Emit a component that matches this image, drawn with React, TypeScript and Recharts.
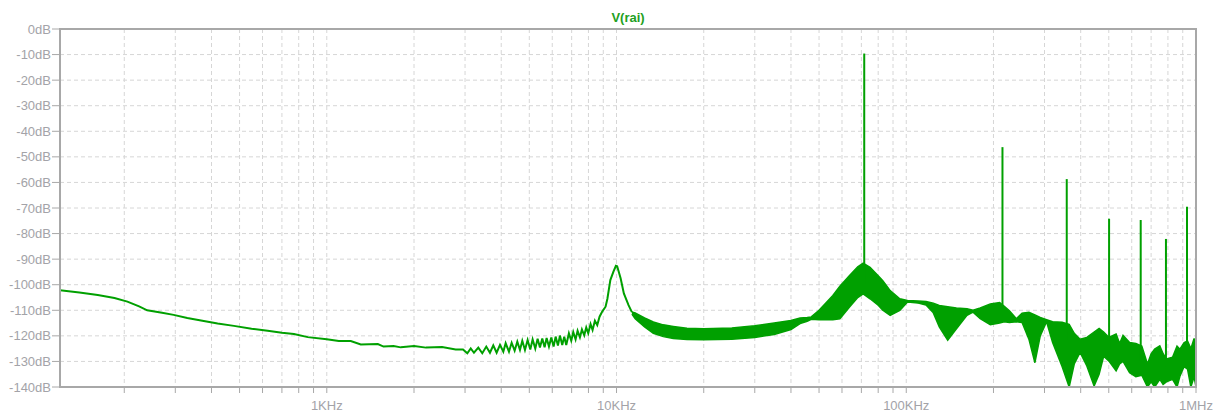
import {
  ComposedChart,
  Line,
  Area,
  XAxis,
  YAxis,
  CartesianGrid,
  ReferenceArea
} from "recharts";

const green = "#00a000";
const axisGray = "#a8a8a8";
const labelGray = "#a3a3a8";
const font = "'Liberation Sans', Arial, sans-serif";

// single trace: low end, ripple from 3K, resonance at 10K
const traceFreq = [
  120, 140, 162, 185, 205, 225, 240, 270, 296, 330, 368, 420, 478, 550, 625, 700, 770, 860,
  1000, 1100, 1210, 1310, 1400, 1500, 1570, 1700, 1800, 2000, 2200, 2500, 2785, 2952,
  3055, 3139, 3221, 3334, 3441, 3552, 3657, 3755, 3856, 3961, 4067, 4143, 4254, 4345,
  4450, 4545, 4642, 4729, 4830, 4933, 5039, 5133, 5243, 5341, 5441, 5543, 5646, 5737,
  5845, 5954, 6065, 6163, 6277, 6378, 6496, 6600, 6706, 6849, 6978, 7090, 7222, 7338,
  7475, 7595, 7736, 7861, 7987, 8136, 8267, 8421, 8579, 8738, 8925, 9165, 9300, 9520,
  9750, 9950, 10050, 10330, 10600, 11000, 11300
];
const traceDb = [
  -102.2, -103, -104, -105.2, -106.6, -108.5, -110, -111, -111.8, -113, -114, -115.2, -116.1, -117.2, -118, -118.8, -119.3, -120.5,
  -121.3, -122, -122, -123.4, -123.3, -123.2, -124.2, -124, -124.5, -124, -124.6, -124.4, -125.3, -125.3,
  -126.8, -124.9, -126.6, -124.6, -126.8, -124.2, -126.6, -123.7, -126.6, -123.5, -126.2, -122.9, -126.2, -122.7,
  -125.8, -122.3, -125.5, -121.9, -125.5, -121.6, -125.3, -121.4, -125.0, -121.1, -124.6, -121.0, -124.5, -120.8,
  -124.2, -120.6, -124.2, -120.3, -123.8, -119.9, -123.6, -120.3, -123.6, -119.0, -121.9, -118.5, -121.4, -118.0,
  -120.6, -117.5, -119.8, -116.7, -119.0, -115.4, -117.7, -114.1, -115.8, -112.5, -110.5, -108.6, -105.5, -98.2,
  -95, -92.6, -92.8, -97.5, -103.4, -108, -110.7
];

// dense part above 11K drawn as min/max envelope
const bandFreq = [
  11300, 11600, 12500, 13400, 14500, 15700, 17500, 20000, 25000, 30000, 35000, 40000, 43000, 45500,
  47000, 50000, 55800, 59000, 63600, 68000, 71000, 75000, 80000, 83000, 88000, 95000, 101000, 110000,
  117000, 124000, 130000, 139000, 149000, 162000, 170000, 180000, 195000, 210000, 218000, 227000,
  240000, 251000, 265000, 278000, 290000, 305000, 320000, 345000, 365000, 380000, 398000, 420000,
  445000, 463000, 480000, 500000, 530000, 545000, 560000, 590000, 620000, 650000, 680000, 700000,
  720000, 750000, 770000, 790000, 830000, 860000, 880000, 910000, 935000, 960000, 985000, 1000000
];
const bandHi = [
  -110.7, -111, -113, -114.6, -115.7, -116.3, -117, -117.2, -116.9, -116, -115, -114, -113, -112.8,
  -112.6, -110, -104.2, -100.6, -96.5, -93, -91.6, -93.2, -96.5, -98.4, -102.3, -105.5, -106.2, -106.4,
  -106.6, -107.2, -108.1, -108.6, -109.1, -109.4, -110, -109.1, -107.5, -107, -108.5, -110.2,
  -113.3, -111.1, -110.8, -111.8, -112.8, -113.7, -114.5, -114.7, -115.5, -119, -121.3, -120.6,
  -118.5, -117.1, -118.5, -120.6, -119.3, -123, -119.8, -122.6, -123, -124, -131, -127,
  -125.2, -123.9, -127, -129, -128.4, -124, -125.2, -122.6, -122, -125, -121, -128
];
const bandLo = [
  -111.5, -113.3, -116.5, -119, -120.3, -121, -121.4, -121.5, -121.3, -120.6, -119.5, -117.5, -115.2, -114.3,
  -113.5, -113.7, -113.7, -113.3, -108.8, -105, -103.6, -105.5, -108, -110, -112, -110, -106.8, -107.2,
  -107.9, -111, -116.5, -121.7, -117.2, -112, -110.7, -113.3, -115.6, -115, -114.5, -114.8,
  -114.5, -114.8, -121.3, -130.5, -120, -114.5, -122.6, -132, -140, -131, -126.5, -131.8,
  -139.6, -135, -128, -129.8, -133.7, -131, -130, -134.4, -136, -135.4, -140, -138,
  -140, -137, -139, -138, -137, -140, -135.8, -132, -133, -140, -136, -140
];

// harmonics of the switching frequency
const spikeFreq = [71600, 214800, 358000, 501200, 644400, 787600, 930800];
const spikeTop = [-9.6, -46.2, -58.7, -74.2, -74.7, -82.1, -69.5];
const spikeBase = [-100, -112, -122, -125, -130, -132, -128];

const xTicks = [
  200, 300, 400, 500, 600, 700, 800, 900,
  1000, 2000, 3000, 4000, 5000, 6000, 7000, 8000, 9000,
  10000, 20000, 30000, 40000, 50000, 60000, 70000, 80000, 90000,
  100000, 200000, 300000, 400000, 500000, 600000, 700000, 800000, 900000, 1000000
];
const decadeLabels: Record<number, string> = {
  1000: "1KHz",
  10000: "10KHz",
  100000: "100KHz",
  1000000: "1MHz"
};
const yTicks = [0, -10, -20, -30, -40, -50, -60, -70, -80, -90, -100, -110, -120, -130, -140];

export default function App() {
  const traceData = traceFreq.map((f, i) => ({ f, db: traceDb[i] }));
  const bandData = bandFreq.map((f, i) => ({ f, range: [bandLo[i], bandHi[i]] }));
  const spikes = spikeFreq.map((f, i) => [
    { f, db: spikeBase[i] },
    { f, db: spikeTop[i] }
  ]);

  return (
    <div style={{ position: "absolute", left: 0, top: 0, width: 1215, height: 412, background: "#fff", fontFamily: font }}>
      <div
        style={{
          position: "absolute",
          left: 0,
          width: 1256,
          top: 10,
          textAlign: "center",
          color: "#22a022",
          fontWeight: "bold",
          fontSize: 13
        }}
      >
        V(rai)
      </div>

      <ComposedChart width={1215} height={412} margin={{ top: 29, right: 19, bottom: 0, left: 0 }}>
        <CartesianGrid stroke="#d6d6d6" strokeDasharray="4 3" />

        <XAxis
          dataKey="f"
          type="number"
          scale="log"
          domain={[120, 1000000]}
          allowDataOverflow
          ticks={xTicks}
          interval={0}
          height={25}
          tickSize={6}
          tickMargin={8}
          tickFormatter={(v: number) => decadeLabels[v] ?? ""}
          stroke={axisGray}
          axisLine={{ stroke: axisGray, strokeWidth: 2 }}
          tickLine={{ stroke: axisGray }}
          tick={{ fill: labelGray, fontSize: 13, fontFamily: font }}
        />
        <YAxis
          type="number"
          domain={[-140, 0]}
          allowDataOverflow
          ticks={yTicks}
          interval={0}
          width={60}
          tickSize={8}
          tickMargin={1}
          tickFormatter={(v: number) => `${v}dB`}
          axisLine={{ stroke: axisGray, strokeWidth: 2 }}
          tickLine={{ stroke: axisGray }}
          tick={{ fill: labelGray, fontSize: 13, fontFamily: font }}
        />

        <Area
          data={bandData}
          dataKey="range"
          type="linear"
          stroke={green}
          strokeWidth={1.5}
          fill={green}
          fillOpacity={1}
          dot={false}
          activeDot={false}
          isAnimationActive={false}
        />
        <Line
          data={traceData}
          dataKey="db"
          type="linear"
          stroke={green}
          strokeWidth={2}
          dot={false}
          activeDot={false}
          isAnimationActive={false}
        />
        {spikes.map((d, i) => (
          <Line
            key={i}
            data={d}
            dataKey="db"
            type="linear"
            stroke={green}
            strokeWidth={2}
            dot={false}
            activeDot={false}
            isAnimationActive={false}
          />
        ))}

        <ReferenceArea
          x1={120}
          x2={1000000}
          y1={-140}
          y2={0}
          fill="none"
          stroke={axisGray}
          strokeWidth={2}
        />
      </ComposedChart>
    </div>
  );
}
